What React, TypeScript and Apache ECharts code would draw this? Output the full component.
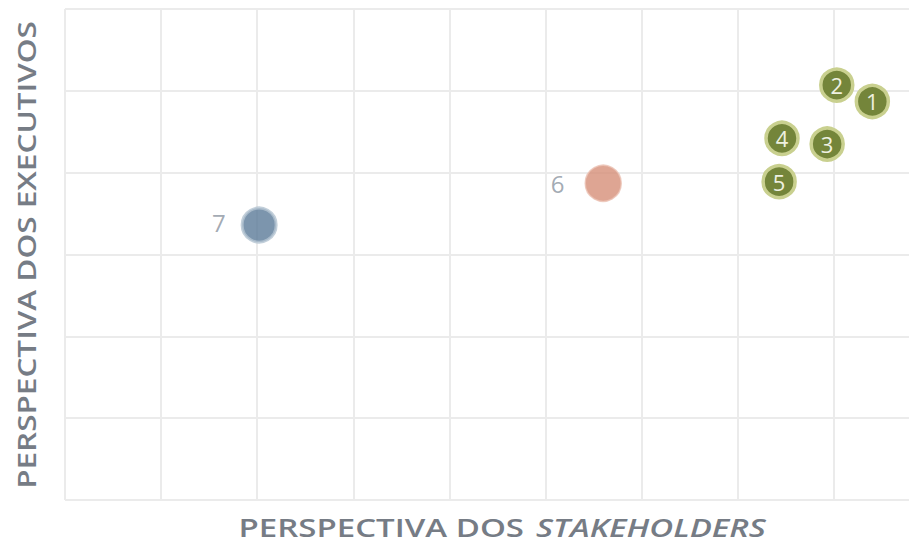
import React, { useEffect, useRef } from "react";
import * as echarts from "echarts";

const greenLabels = ["1", "2", "3", "4", "5"];
const greenX = [8.4, 8.03, 7.93, 7.46, 7.43];
const greenY = [4.87, 5.07, 4.35, 4.42, 3.89];
const salmonLabels = ["6"];
const salmonX = [5.6];
const salmonY = [3.87];
const blueLabels = ["7"];
const blueX = [2.02];
const blueY = [3.36];

const xTitleA = "PERSPECTIVA DOS";
const xTitleB = "STAKEHOLDERS";
const yTitle = "PERSPECTIVA DOS EXECUTIVOS";

const FONT = "'Open Sans', sans-serif";
const TITLE_COLOR = "#767c85";

function pts(xs: number[], ys: number[], ls: string[]) {
  return xs.map((x, i) => ({ value: [x, ys[i]], name: ls[i] }));
}

export default function App() {
  const ref = useRef<HTMLDivElement>(null);
  useEffect(() => {
    if (!ref.current) return;
    const chart = echarts.init(ref.current, undefined, { renderer: "svg" });
    chart.setOption({
      animation: false,
      backgroundColor: "#ffffff",
      grid: { left: 65, top: 9, height: 491, right: 0 },
      xAxis: {
        type: "value",
        min: 0,
        max: 9,
        interval: 1,
        axisLine: { show: false },
        axisTick: { show: false },
        axisLabel: { show: false },
        splitLine: { show: true, lineStyle: { color: "#ebebeb", width: 2 } },
      },
      yAxis: {
        type: "value",
        min: 0,
        max: 6,
        interval: 1,
        axisLine: { show: false },
        axisTick: { show: false },
        axisLabel: { show: false },
        splitLine: { show: true, lineStyle: { color: "#ebebeb", width: 2 } },
      },
      graphic: [
        {
          type: "text",
          x: 524,
          y: 528,
          scaleX: 1.32,
          style: {
            text: xTitleA,
            align: "right",
            verticalAlign: "middle",
            fontFamily: FONT,
            fontSize: 25,
            lineHeight: 20,
            fontWeight: 600,
            fill: TITLE_COLOR,
          },
        },
        {
          type: "text",
          x: 536,
          y: 528,
          scaleX: 1.32,
          style: {
            text: xTitleB,
            align: "left",
            verticalAlign: "middle",
            fontFamily: FONT,
            fontSize: 25,
            lineHeight: 20,
            fontWeight: 600,
            fontStyle: "italic",
            fill: TITLE_COLOR,
          },
        },
        {
          type: "text",
          x: 26,
          y: 255,
          rotation: Math.PI / 2,
          scaleX: 1.26,
          style: {
            text: yTitle,
            align: "center",
            verticalAlign: "middle",
            fontFamily: FONT,
            fontSize: 25,
            lineHeight: 20,
            fontWeight: 600,
            fill: TITLE_COLOR,
          },
        },
      ],
      series: [
        {
          type: "scatter",
          data: pts(greenX, greenY, greenLabels),
          symbolSize: 32,
          itemStyle: { color: "#74853a", borderColor: "#c9d08f", borderWidth: 3.5, opacity: 1 },
          label: {
            show: true,
            position: "inside",
            formatter: "{b}",
            color: "#eef0e0",
            fontFamily: FONT,
            fontSize: 22,
          },
          z: 3,
        },
        {
          type: "scatter",
          data: pts(salmonX, salmonY, salmonLabels),
          symbolSize: 36,
          itemStyle: { color: "#d68f78", borderColor: "#ebc2b4", borderWidth: 1.5 },
          label: {
            show: true,
            position: "left",
            distance: 20,
            formatter: "{b}",
            color: "#8b94a0",
            fontFamily: FONT,
            fontSize: 24,
          },
        },
        {
          type: "scatter",
          data: pts(blueX, blueY, blueLabels),
          symbolSize: 34,
          itemStyle: { color: "#5b7b98", borderColor: "#b3c3d1", borderWidth: 3 },
          label: {
            show: true,
            position: "left",
            distance: 15,
            formatter: "{b}",
            color: "#8b94a0",
            fontFamily: FONT,
            fontSize: 24,
            offset: [0, -3],
          },
        },
      ],
    });
    return () => chart.dispose();
  }, []);
  return (
    <div
      style={{ position: "fixed", left: 0, top: 0, width: 909, height: 545, overflow: "hidden" }}
    >
      <div ref={ref} style={{ width: 930, height: 545 }} />
    </div>
  );
}
